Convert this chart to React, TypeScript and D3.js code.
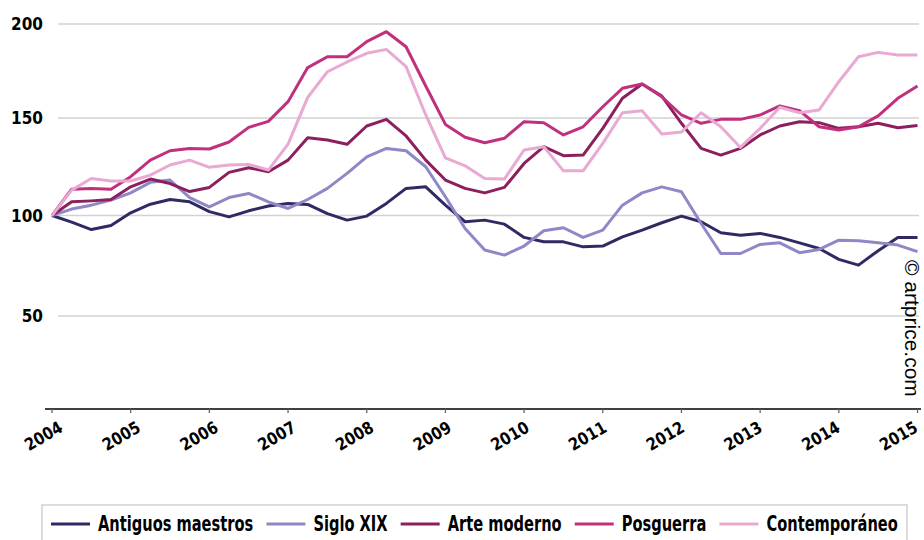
import { useEffect, useRef } from "react";
import * as d3 from "d3";

const WIDTH = 924;
const HEIGHT = 540;

// quarterly index, 2004 Q1 = 100
const years = [2004, 2005, 2006, 2007, 2008, 2009, 2010, 2011, 2012, 2013, 2014, 2015];
const yTicks = [50, 100, 150, 200];

const antiguosMaestros = [
  100, 96.7, 93, 95, 101.4, 105.8, 108.2, 107, 102, 99.3, 102.4, 104.9, 106.2, 105.7, 101, 97.7,
  99.7, 106.2, 113.9, 114.7, 105.3, 96.9, 97.7, 95.7, 89.1, 86.9, 86.9, 84.4, 84.8, 89.4, 92.7, 96.4,
  99.7, 96.9, 91.4, 90.2, 91.1, 89.1, 86.4, 83.6, 78.2, 75.3, 82.5, 89.1, 89.1,
];
const sigloXIX = [
  100, 103.3, 105.3, 107.9, 111.6, 117, 118.2, 109.2, 104.4, 109.2, 111.3, 107, 103.6, 108.2, 113.9, 121.6,
  130.1, 134.4, 133.2, 125, 109.6, 93.5, 82.8, 80.3, 84.8, 92.4, 93.9, 89.1, 92.7, 105.3, 111.6, 114.7,
  112.2, 96, 81.1, 81.1, 85.6, 86.4, 81.5, 83.1, 87.7, 87.4, 86.4, 85.3, 82,
];
const arteModerno = [
  100, 107, 107.5, 108.2, 114.7, 118.7, 116.4, 112.3, 114.4, 122.1, 124.5, 122.4, 128.4, 139.9, 138.7, 136.5,
  145.9, 149.3, 140.8, 128.4, 118.2, 113.9, 111.6, 114.4, 126.7, 135.3, 130.7, 131, 144.7, 160.5, 168.1, 161.7,
  147.3, 134.4, 131, 134.4, 141.3, 145.9, 148.1, 147.6, 144.7, 145.5, 147.3, 145, 146.2,
];
const posguerra = [
  100, 113.5, 113.8, 113.5, 119.9, 128.4, 133.2, 134.4, 134.1, 137.7, 145.2, 148.3, 158.7, 176.8, 182.6, 182.6,
  190.6, 195.9, 187.9, 167, 146.7, 140.1, 137.3, 139.6, 148.1, 147.6, 141.3, 145.5, 156, 165.8, 168.1, 161.3,
  151.6, 147.3, 149.3, 149.3, 151.6, 156.4, 153.9, 145.5, 143.8, 145.5, 151.1, 160.5, 167,
];
const contemporaneo = [
  100, 113, 119, 117.7, 117.7, 120.7, 125.9, 128.4, 124.7, 125.9, 126.2, 123.3, 136.6, 161, 174.6, 179.8,
  184.4, 186.5, 177.3, 151.6, 129.6, 125.5, 119, 118.7, 133.6, 135.3, 122.9, 122.9, 137, 152.8, 153.9, 141.8,
  142.8, 152.8, 145.5, 134.9, 144.7, 155.7, 152.8, 154.3, 169.3, 182.6, 184.9, 183.5, 183.5,
];

const seriesNames = ["Antiguos maestros", "Siglo XIX", "Arte moderno", "Posguerra", "Contemporáneo"];
const seriesColors = ["#2f2a63", "#8f88c6", "#8c1f5e", "#c1307f", "#e9a9d2"];
const seriesValues = [antiguosMaestros, sigloXIX, arteModerno, posguerra, contemporaneo];

// narrow bold label text (no condensed bold font installed, so DejaVu condensed + squeeze)
const boldText = (sel: any, size: number) =>
  sel
    .style("font-family", "'DejaVu Sans', sans-serif")
    .style("font-weight", "bold")
    .style("font-stretch", "condensed")
    .style("font-size", `${size}px`);

export default function App() {
  const svgRef = useRef<SVGSVGElement>(null);

  useEffect(() => {
    const svg = d3.select(svgRef.current);
    svg.selectAll("*").remove();

    const n = antiguosMaestros.length;
    const x = d3.scaleLinear().domain([0, n - 1]).range([52, 917.5]);
    // piecewise so gridlines sit where the original puts them
    const y = d3.scaleLinear().domain([0, 50, 100, 150, 200]).range([409, 316, 215.5, 118, 24]);

    // gridlines
    svg
      .append("g")
      .selectAll("line")
      .data(yTicks)
      .join("line")
      .attr("x1", 58)
      .attr("x2", 919)
      .attr("y1", (d) => y(d))
      .attr("y2", (d) => y(d))
      .attr("stroke", "#d2d2d2")
      .attr("stroke-width", 1.6);

    svg
      .append("g")
      .selectAll("text")
      .data(yTicks)
      .join("text")
      .attr("x", 43)
      .attr("y", (d) => y(d))
      .attr("dy", "0.36em")
      .attr("text-anchor", "end")
      .call(boldText, 17)
      .text((d) => d);

    // x axis
    const xAxis = svg.append("g");
    xAxis
      .append("line")
      .attr("x1", 45)
      .attr("x2", 921)
      .attr("y1", 409)
      .attr("y2", 409)
      .attr("stroke", "#000")
      .attr("stroke-width", 1.3);

    const tick = xAxis
      .selectAll("g")
      .data(years)
      .join("g")
      .attr("transform", (d, i) => `translate(${x(i * 4)},409)`);
    tick.append("line").attr("y2", 4).attr("stroke", "#666").attr("stroke-width", 1.3);
    // labels drift slightly left of their ticks across the axis, as in the original
    tick
      .append("text")
      .attr("transform", (d, i) => `translate(${12 - i * 0.95},22) rotate(-30) scale(0.95,1)`)
      .attr("text-anchor", "end")
      .call(boldText, 17)
      .text((d) => d);

    // lines
    const line = d3
      .line<number>()
      .x((d, i) => x(i))
      .y((d) => y(d));

    svg
      .append("g")
      .selectAll("path")
      .data(seriesValues)
      .join("path")
      .attr("d", (d) => line(d))
      .attr("fill", "none")
      .attr("stroke", (d, i) => seriesColors[i])
      .attr("stroke-width", 3)
      .attr("stroke-linejoin", "round");

    // copyright
    svg
      .append("text")
      .attr("transform", "translate(905,260) rotate(90)")
      .style("font-family", "'Liberation Sans', Arial, sans-serif")
      .style("font-size", "21px")
      .text("© artprice.com");

    // legend
    const box = { x: 42, y: 505, w: 865, h: 50 };
    const legend = svg.append("g");
    legend
      .append("rect")
      .attr("x", box.x)
      .attr("y", box.y)
      .attr("width", box.w)
      .attr("height", box.h)
      .attr("fill", "#fff")
      .attr("stroke", "#dcdcdc")
      .attr("stroke-width", 2);

    const swatch = 39;
    const gapIn = 8;
    const gapOut = 13;
    const pad = 9;
    const items = legend.append("g");
    const texts = seriesNames.map((name) =>
      items.append("text").call(boldText, 21).text(name)
    );
    const widths = texts.map((t) => (t.node() as SVGTextElement).getComputedTextLength());
    const room = box.w - 2 * pad - seriesNames.length * (swatch + gapIn) - (seriesNames.length - 1) * gapOut;
    const sx = Math.min(1, room / d3.sum(widths));

    let cx = box.x + pad;
    const ly = 524;
    seriesNames.forEach((name, i) => {
      items
        .append("line")
        .attr("x1", cx)
        .attr("x2", cx + swatch)
        .attr("y1", ly)
        .attr("y2", ly)
        .attr("stroke", seriesColors[i])
        .attr("stroke-width", 3);
      texts[i].attr("transform", `translate(${cx + swatch + gapIn},531) scale(${sx},1)`);
      cx += swatch + gapIn + widths[i] * sx + gapOut;
    });
  }, []);

  return (
    <svg
      ref={svgRef}
      width={WIDTH}
      height={HEIGHT}
      style={{ position: "absolute", left: 0, top: 0, background: "#fff" }}
    />
  );
}
